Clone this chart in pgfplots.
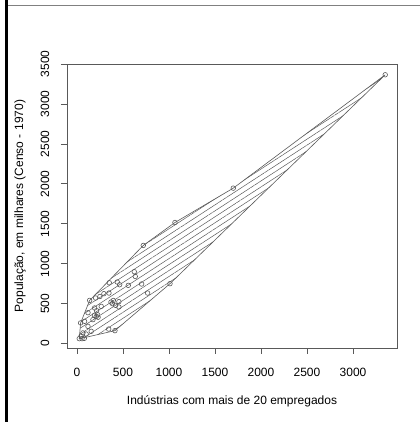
\documentclass[border=0pt]{standalone}
\usepackage{fontspec}
\setmainfont{Liberation Sans}
\usepackage{pgfplots}
\pgfplotsset{compat=1.18}
\usetikzlibrary{patterns.meta}

\definecolor{frame}{gray}{0.35}

\begin{document}
\begin{tikzpicture}[x=1bp,y=1bp]
\begin{axis}[
  at={(67bp,74bp)},
  anchor=south west,
  width=330bp,
  height=284bp,
  scale only axis,
  xmin=-108, xmax=3478,
  ymin=-55, ymax=3500,
  xtick={0,500,...,3000},
  ytick={0,500,...,3500},
  tick align=outside,
  major tick length=6bp,
  axis line style={frame, line width=0.7bp},
  tick style={frame, line width=0.7bp},
  xtick pos=bottom, ytick pos=left,
  font=\fontsize{12bp}{14bp}\selectfont,
  /pgf/number format/assume math mode=true,
  /pgf/number format/1000 sep={},
  xticklabel style={anchor=center, yshift=-18bp},
  yticklabel style={xshift=-16bp, rotate=90, anchor=center},
  xlabel={Indústrias com mais de 20 empregados},
  ylabel={População, em milhares (Censo - 1970)},
  xlabel style={at={(axis description cs:0.5,-0.187)}, anchor=center},
  ylabel style={at={(axis description cs:-0.142,0.5)}, anchor=center},
]
% envoltoria convexa, hachurada
\addplot[draw=frame, line width=0.6bp,
  pattern={Lines[angle=33, distance=5bp, line width=0.5bp]},
  pattern color=frame]
coordinates {
(25,60) (413,162) (1011,750) (3350,3365) (1699,1946) (1065,1516)
(721,1229) (138,541) (40,259) (25,60)
};
% pontos
\addplot[only marks, mark=o, mark size=2.3bp, mark options={frame, line width=0.6bp}]
coordinates {
(3350,3365) (1699,1946) (1065,1516) (1011,750) (721,1229) (768,633)
(623,900) (634,841) (703,746) (558,729) (438,771) (464,737)
(351,762) (413,162) (345,182) (348,633) (293,625) (250,590)
(203,571) (138,541) (370,520) (385,500) (395,540) (456,525)
(456,458) (420,479) (264,466) (192,446) (214,412) (210,340)
(190,355) (230,330) (225,360) (120,387) (174,300) (83,279)
(40,259) (120,216) (155,154) (65,134) (25,62) (45,95)
(55,62) (80,66) (100,120)
};
\end{axis}
% moldura da pagina
\fill[black] (5,0) rectangle (8,422);
\draw[gray, line width=0.8bp] (8,417) -- (420,417);
\pgfresetboundingbox
\path[use as bounding box] (0,0) rectangle (420,422);
\end{tikzpicture}
\end{document}
